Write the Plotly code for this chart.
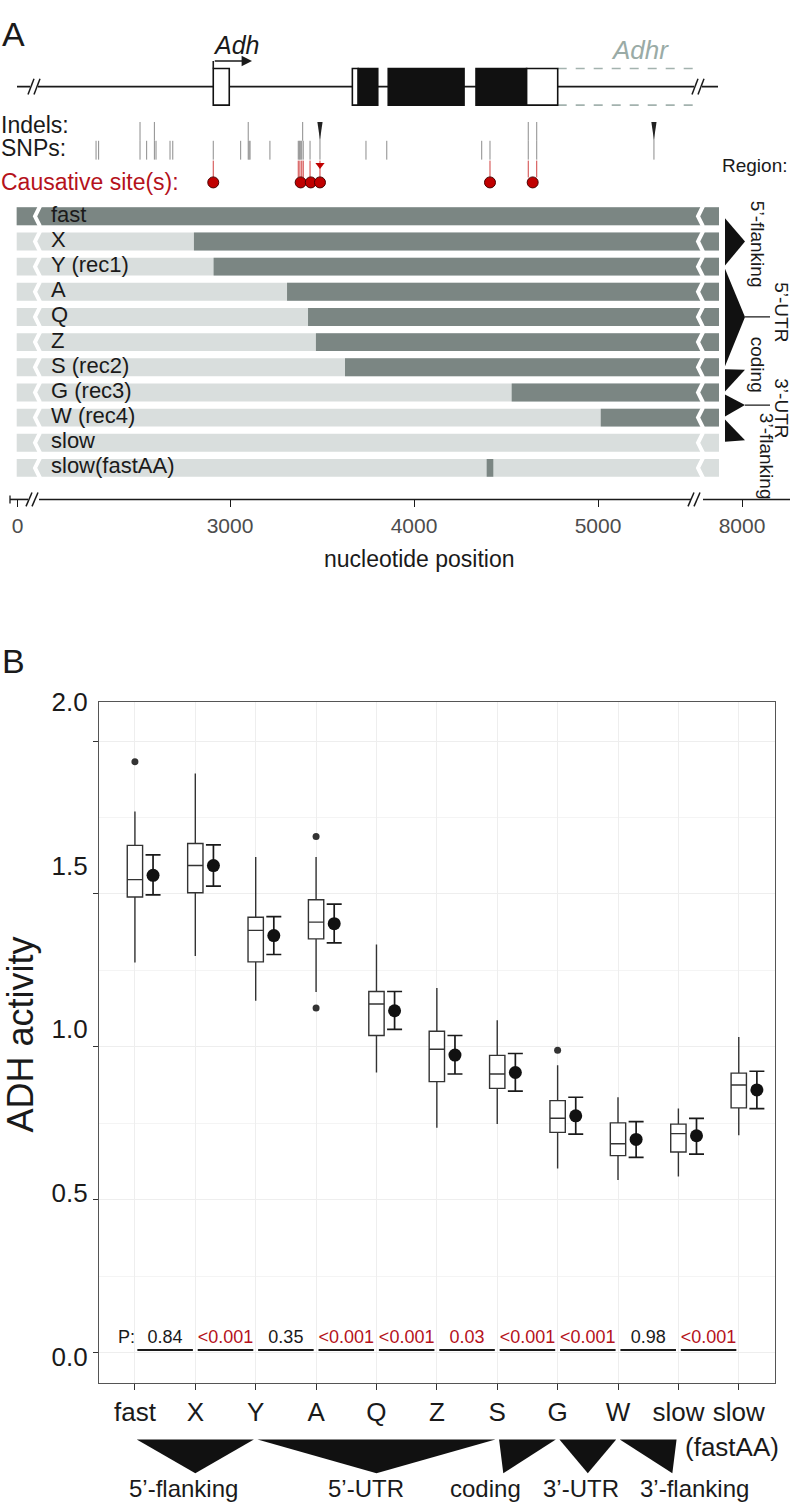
import plotly.graph_objects as go

W, H = 793, 1505

# ======================= DATA =======================
# ---- Panel A : recombinant lines (dark = "fast" derived sequence) ----
strain_labels = ["fast", "X", "Y (rec1)", "A", "Q", "Z", "S (rec2)", "G (rec3)",
                 "W (rec4)", "slow", "slow(fastAA)"]
fast_seg_start = [0, 2804, 2911, 3310, 3424, 3467, 3625, 4531, 5015, None, 4395]
fast_seg_end = [8000, 8000, 8000, 8000, 8000, 8000, 8000, 8000, 8000, None, 4431]

exon_start = [2909, 3665, 3697, 3860, 4337, 4612]
exon_end = [2996, 3697, 3803, 4272, 4612, 4781]
exon_coding = [False, False, True, True, True, False]

snp_pos = [2272, 2286, 2511, 2547, 2589, 2598, 2674, 2689, 2909, 3058, 3099, 3104,
           3109, 3217, 3371, 3376, 3380, 3385, 3390, 3398, 3435, 3739, 3852, 4368,
           4413, 4621, 4667]
indel_pos = [2511, 2589, 3099, 3395, 4621, 4667]
indel_big = [3489, 5304]
causal_stem_pos = [2909, 3371, 3380, 3390, 3398, 3435, 3489, 4413, 4621, 4667]
causal_dot_pos = [2909, 3384, 3439, 3489, 4413, 4645]

axis_tick_labels = ["0", "3000", "4000", "5000", "8000"]

# ---- Panel B : ADH activity ----
lines_b = ["fast", "X", "Y", "A", "Q", "Z", "S", "G", "W", "slow", "slow(fastAA)"]
tick_labels_b = ["fast", "X", "Y", "A", "Q", "Z", "S", "G", "W", "slow", "slow"]
q1 = [1.490, 1.504, 1.278, 1.353, 1.037, 0.886, 0.864, 0.720, 0.644, 0.656, 0.800]
median = [1.547, 1.593, 1.381, 1.408, 1.140, 0.992, 0.911, 0.766, 0.683, 0.716, 0.875]
q3 = [1.659, 1.665, 1.424, 1.481, 1.181, 1.051, 0.972, 0.824, 0.751, 0.747, 0.914]
lower_whisker = [1.276, 1.297, 1.151, 1.179, 0.916, 0.735, 0.747, 0.602, 0.564, 0.576, 0.711]
upper_whisker = [1.770, 1.894, 1.621, 1.621, 1.335, 1.192, 1.087, 0.940, 0.835, 0.798, 1.032]
outlier_line = ["fast", "A", "A", "G"]
outlier_val = [1.933, 1.688, 1.127, 0.989]
mean_val = [1.561, 1.593, 1.364, 1.403, 1.118, 0.973, 0.916, 0.774, 0.697, 0.709, 0.859]
ci_high = [1.628, 1.661, 1.426, 1.467, 1.181, 1.037, 0.978, 0.835, 0.755, 0.766, 0.920]
ci_low = [1.497, 1.526, 1.302, 1.340, 1.057, 0.911, 0.855, 0.714, 0.638, 0.649, 0.798]
p_values = ["0.84", "<0.001", "0.35", "<0.001", "<0.001", "0.03", "<0.001", "<0.001",
            "0.98", "<0.001"]

region_names = ["5\u2019-flanking", "5\u2019-UTR", "coding", "3\u2019-UTR", "3\u2019-flanking"]
region_first = [0, 2, 6, 7, 8]
region_last = [2, 6, 7, 8, 9]
region_apex = [1, 4, 6.1, 7.5, 8.9]

# ======================= STYLE / GEOMETRY =======================
FONT = "Liberation Sans, Arial, sans-serif"
BLACK = "#1a1a1a"
RED = "#b5121b"
LIGHT = "#d9dedd"
DARK = "#7b8683"
GRID = "#eeeeee"


def pxx(px):
    return px / W


def pxy(py):
    return 1 - py / H


# panel A display mapping (broken axis)
def nt_of_px(px):
    return 3000 + (px - 230) / 0.184


def row_of_px(py):
    return (py - 204.2) / 25.4


SEQ_LEFT, SEQ_RIGHT = nt_of_px(16.7), nt_of_px(719)


def disp(p):
    if p <= 0:
        return SEQ_LEFT
    if p >= 8000:
        return SEQ_RIGHT
    return p


TICK_DISP = [nt_of_px(17.7), 3000, 4000, 5000, nt_of_px(742)]

# panel B geometry
XB0, XB1, YB0, YB1 = 98.7, 775.0, 694.0, 1382.0
XR = [-0.6, 10.6]
YR = [(1351 - YB1) / 308.5, (1351 - YB0) / 308.5]          # data scale (ticks)
YR_LAB = [(1355 - YB1) / 330.15, (1355 - YB0) / 330.15]    # shifted tick labels


def cat_px(c):
    return XB0 + (c - XR[0]) / (XR[1] - XR[0]) * (XB1 - XB0)


fig = go.Figure()
shapes = []
ann = []


def add_ann(**kw):
    kw.setdefault("xanchor", "center")
    kw.setdefault("yanchor", "middle")
    kw.setdefault("showarrow", False)
    kw.setdefault("borderpad", 0)
    ann.append(kw)


# ======================= PANEL A =======================
n = len(strain_labels)
rows = list(range(n))
fig.add_trace(go.Bar(orientation="h", y=rows, base=[disp(0)] * n,
                     x=[disp(8000) - disp(0)] * n, width=0.71,
                     marker=dict(color=LIGHT, line=dict(width=0)),
                     xaxis="x3", yaxis="y3", hoverinfo="skip", showlegend=False))
dr, db, dl = [], [], []
for r, (s, e) in enumerate(zip(fast_seg_start, fast_seg_end)):
    if s is None:
        continue
    dr.append(r)
    db.append(disp(s))
    dl.append(disp(e) - disp(s))
fig.add_trace(go.Bar(orientation="h", y=dr, base=db, x=dl, width=0.71,
                     marker=dict(color=DARK, line=dict(width=0)),
                     xaxis="x3", yaxis="y3", hoverinfo="skip", showlegend=False))

# white zig-zag breaks on bars
zx, zy = [], []
lb, rb, amp = nt_of_px(35), nt_of_px(698), 5 / 0.184
for r in rows:
    zx += [lb + amp, lb, lb + amp, None, rb + amp, rb, rb + amp, None]
    zy += [r - 0.4, r, r + 0.4, None, r - 0.4, r, r + 0.4, None]
fig.add_trace(go.Scatter(x=zx, y=zy, mode="lines", line=dict(color="white", width=4),
                         xaxis="x3", yaxis="y3", hoverinfo="skip", showlegend=False))

# row labels
fig.add_trace(go.Scatter(x=[nt_of_px(51)] * n, y=rows, text=strain_labels, mode="text",
                         textposition="middle right",
                         textfont=dict(family=FONT, size=22, color=BLACK),
                         xaxis="x3", yaxis="y3", hoverinfo="skip", showlegend=False))

# SNP / indel ticks
ind_top, ind_bot = row_of_px(109), row_of_px(128)
snp_top, snp_bot = row_of_px(128), row_of_px(147)
sx, sy = [], []
for p in snp_pos:
    sx += [p, p, None]
    sy += [snp_top, snp_bot, None]
fig.add_trace(go.Scatter(x=sx, y=sy, mode="lines", line=dict(color="#8c8c8c", width=1),
                         xaxis="x3", yaxis="y3", hoverinfo="skip", showlegend=False))
ix, iy = [], []
for p in indel_pos + indel_big:
    ix += [p, p, None]
    iy += [ind_top, snp_bot if p in indel_big else ind_bot, None]
fig.add_trace(go.Scatter(x=ix, y=iy, mode="lines", line=dict(color="#8c8c8c", width=1),
                         xaxis="x3", yaxis="y3", hoverinfo="skip", showlegend=False))
for p in indel_big:
    w = 2.6 / 0.184
    shapes.append(dict(type="path", xref="x3", yref="y3",
                       path=f"M {p-w},{ind_top} L {p+w},{ind_top} L {p},{row_of_px(127)} Z",
                       fillcolor="#222222", line=dict(width=0)))

# causative sites
cx, cy = [], []
for p in causal_stem_pos:
    cx += [p, p, None]
    cy += [row_of_px(148), row_of_px(165), None]
fig.add_trace(go.Scatter(x=cx, y=cy, mode="lines", line=dict(color="#d04040", width=1),
                         xaxis="x3", yaxis="y3", hoverinfo="skip", showlegend=False))
fig.add_trace(go.Scatter(x=[indel_big[0]], y=[row_of_px(152.5)], mode="markers",
                         marker=dict(symbol="triangle-down", size=8, color="#c00000"),
                         xaxis="x3", yaxis="y3", hoverinfo="skip", showlegend=False))
fig.add_trace(go.Scatter(x=causal_dot_pos, y=[row_of_px(170)] * len(causal_dot_pos),
                         mode="markers",
                         marker=dict(size=11, color="#c00000", line=dict(color="#4a0000", width=1)),
                         xaxis="x3", yaxis="y3", hoverinfo="skip", showlegend=False))

# gene model
gy = row_of_px(73.3)
ex_top, ex_bot = row_of_px(55), row_of_px(92)
shapes.append(dict(type="line", xref="x3", yref="y3", x0=nt_of_px(17), x1=nt_of_px(718),
                   y0=gy, y1=gy, line=dict(color=BLACK, width=1.6)))
# Adhr dashed outline
for yy in (ex_top, ex_bot):
    shapes.append(dict(type="line", xref="x3", yref="y3", x0=exon_end[-1], x1=nt_of_px(695),
                       y0=yy, y1=yy, line=dict(color="#a3b2ae", width=1.6, dash="dash")))
for s, e, c in zip(exon_start, exon_end, exon_coding):
    shapes.append(dict(type="rect", xref="x3", yref="y3", x0=s, x1=e, y0=ex_top, y1=ex_bot,
                       fillcolor="#111111" if c else "white", line=dict(color="#111111", width=1.6)))
# breaks "//" on gene line and axis line
for (bx, by) in [(28, 73.3), (692, 73.3)]:
    shapes.append(dict(type="rect", xref="paper", yref="paper", x0=pxx(bx + 2), x1=pxx(bx + 10),
                       y0=pxy(by - 3), y1=pxy(by + 3), fillcolor="white", line=dict(width=0)))
    for dx in (0, 6):
        shapes.append(dict(type="line", xref="paper", yref="paper",
                           x0=pxx(bx + dx), x1=pxx(bx + dx + 6), y0=pxy(by + 8), y1=pxy(by - 8),
                           line=dict(color=BLACK, width=1.5)))
# panel A axis line with breaks
for x0, x1 in [(10, 28), (39, 691), (703, 790)]:
    shapes.append(dict(type="line", xref="paper", yref="paper", x0=pxx(x0), x1=pxx(x1),
                       y0=pxy(490), y1=pxy(490), line=dict(color=BLACK, width=1.6)))
for bx in (26, 32, 688, 694):
    shapes.append(dict(type="line", xref="paper", yref="paper", x0=pxx(bx), x1=pxx(bx + 6),
                       y0=pxy(497), y1=pxy(483), line=dict(color=BLACK, width=1.5)))
shapes.append(dict(type="line", xref="paper", yref="paper", x0=pxx(10), x1=pxx(10),
                   y0=pxy(486), y1=pxy(494), line=dict(color=BLACK, width=1.3)))

# transcription start arrow
shapes.append(dict(type="line", xref="x3", yref="y3", x0=exon_start[0], x1=exon_start[0],
                   y0=ex_top, y1=row_of_px(47.5), line=dict(color=BLACK, width=1.6)))
ann.append(dict(xref="x3", yref="y3", axref="x3", ayref="y3", x=nt_of_px(252),
                y=row_of_px(47.5), ax=exon_start[0], ay=row_of_px(47.5), text="",
                showarrow=True, arrowhead=2, arrowsize=1.3, arrowwidth=1.6, arrowcolor=BLACK))
add_ann(xref="x3", yref="y3", x=nt_of_px(236), y=row_of_px(31.7), text="<i>Adh</i>",
        font=dict(family=FONT, size=25, color=BLACK))
add_ann(xref="x3", yref="y3", x=nt_of_px(640), y=row_of_px(36.7), text="<i>Adhr</i>",
        font=dict(family=FONT, size=26, color="#9aaba6"))

# left labels
for txt, yy, col in [("Indels:", 111.7, BLACK), ("SNPs:", 135, BLACK),
                     ("Causative site(s):", 170, RED)]:
    add_ann(xref="paper", yref="paper", x=0, y=pxy(yy), xanchor="left", text=txt,
            font=dict(family=FONT, size=23, color=col))
add_ann(xref="paper", yref="paper", x=pxx(1), y=pxy(20), xanchor="left", text="A",
        font=dict(family=FONT, size=34, color=BLACK))
add_ann(xref="paper", yref="paper", x=pxx(755), y=pxy(153), text="Region:",
        font=dict(family=FONT, size=19, color=BLACK))

# region wedges on the right of panel A
wx0, wx1 = nt_of_px(725), nt_of_px(745)
for k in range(len(region_names)):
    a, b, c = region_first[k] + 0.08, region_last[k] - 0.04, region_apex[k]
    shapes.append(dict(type="path", xref="x3", yref="y3",
                       path=f"M {wx0},{a} L {wx1},{c} L {wx0},{b} Z",
                       fillcolor="#111111", line=dict(width=0)))
for k in (1, 3):
    shapes.append(dict(type="line", xref="x3", yref="y3", x0=wx1, x1=nt_of_px(770),
                       y0=region_apex[k], y1=region_apex[k], line=dict(color=BLACK, width=1.3)))
reg_lab_px = [(757, 232), (782, 301), (757, 354), (782, 398), (766, 446)]
for name, (lx, ly) in zip(region_names, reg_lab_px):
    add_ann(xref="paper", yref="paper", x=pxx(lx), y=pxy(ly), text=name, textangle=90,
            font=dict(family=FONT, size=19, color=BLACK))

add_ann(xref="paper", yref="paper", x=pxx(419), y=pxy(550), text="nucleotide position",
        font=dict(family=FONT, size=23, color=BLACK))

# ======================= PANEL B =======================
xs = list(range(len(lines_b)))
fig.add_trace(go.Box(x=xs, q1=q1, median=median, q3=q3, lowerfence=lower_whisker,
                     upperfence=upper_whisker, boxpoints=False, width=0.254,
                     fillcolor="white", line=dict(color="#333333", width=1.4),
                     whiskerwidth=0, hoverinfo="skip", showlegend=False,
                     xaxis="x", yaxis="y"))
fig.add_trace(go.Scatter(x=[lines_b.index(l) for l in outlier_line], y=outlier_val,
                         mode="markers", marker=dict(size=7, color="#333333"),
                         hoverinfo="skip", showlegend=False))
fig.add_trace(go.Scatter(x=[i + 0.3 for i in xs], y=mean_val, mode="markers",
                         marker=dict(size=13, color="#111111"),
                         error_y=dict(type="data", symmetric=False,
                                      array=[h - m for h, m in zip(ci_high, mean_val)],
                                      arrayminus=[m - l for m, l in zip(mean_val, ci_low)],
                                      width=7.5, thickness=1.7, color="#1a1a1a"),
                         hoverinfo="skip", showlegend=False))
# P-value comparison lines and labels
px_, py_ = [], []
for i in range(len(p_values)):
    px_ += [i + 0.04, i + 0.96, None]
    py_ += [0.008, 0.008, None]
fig.add_trace(go.Scatter(x=px_, y=py_, mode="lines", line=dict(color=BLACK, width=2),
                         hoverinfo="skip", showlegend=False))
p_colors = [RED if v.startswith("<") or float(v) < 0.05 else BLACK for v in p_values]
fig.add_trace(go.Scatter(x=[i + 0.5 for i in range(len(p_values))], y=[0.044] * len(p_values),
                         text=p_values, mode="text",
                         textfont=dict(family=FONT, size=18, color=p_colors),
                         hoverinfo="skip", showlegend=False))
fig.add_trace(go.Scatter(x=[0.0], y=[0.044], text=["P:"], mode="text",
                         textposition="middle left",
                         textfont=dict(family=FONT, size=18, color=BLACK),
                         hoverinfo="skip", showlegend=False))
# dummy trace for the label axis
fig.add_trace(go.Scatter(x=[0], y=[1], yaxis="y2", mode="markers",
                         marker=dict(opacity=0), hoverinfo="skip", showlegend=False))

# region wedges under panel B
for k in range(len(region_names)):
    a = cat_px(region_first[k] + 0.03)
    b = cat_px(region_last[k] - 0.03)
    c = cat_px(region_apex[k])
    shapes.append(dict(type="path", xref="paper", yref="paper",
                       path=f"M {pxx(a)},{pxy(1439)} L {pxx(b)},{pxy(1439)} L {pxx(c)},{pxy(1473)} Z",
                       fillcolor="#111111", line=dict(width=0)))
reg_lab_b = [183, 366, 486, 581, 694]
for name, lx in zip(region_names, reg_lab_b):
    add_ann(xref="paper", yref="paper", x=pxx(lx), y=pxy(1488), text=name,
            font=dict(family=FONT, size=24, color=BLACK))

add_ann(xref="paper", yref="paper", x=pxx(cat_px(9.88)), y=pxy(1446.7), text="(fastAA)",
        font=dict(family=FONT, size=26, color=BLACK))
add_ann(xref="paper", yref="paper", x=pxx(20), y=pxy(1030), text="ADH activity",
        textangle=-90, font=dict(family=FONT, size=36, color=BLACK))
add_ann(xref="paper", yref="paper", x=pxx(1), y=pxy(653), xanchor="left", text="B",
        font=dict(family=FONT, size=34, color=BLACK))

fig.update_layout(
    width=W, height=H, margin=dict(l=0, r=0, t=0, b=0),
    paper_bgcolor="white", plot_bgcolor="white", barmode="overlay",
    showlegend=False, shapes=shapes, annotations=ann,
    xaxis=dict(domain=[pxx(XB0), pxx(XB1)], range=XR, tickmode="array", tickvals=xs,
               ticktext=tick_labels_b, ticks="outside", ticklen=6, tickcolor="#333333",
               tickwidth=1.3, showgrid=True, gridcolor=GRID, gridwidth=1, zeroline=False,
               showline=True, mirror=True, linecolor="#555555", linewidth=1.3,
               tickfont=dict(family=FONT, size=26, color=BLACK), anchor="y"),
    yaxis=dict(domain=[pxy(YB1), pxy(YB0)], range=YR, tickmode="array",
               tickvals=[0, 0.5, 1, 1.5, 2], showticklabels=False, ticks="outside",
               ticklen=5, tickcolor="#333333", tickwidth=1.3, showgrid=True,
               gridcolor=GRID, gridwidth=1, zeroline=False, showline=True, mirror=True,
               linecolor="#555555", linewidth=1.3, anchor="x",
               minor=dict(tickmode="linear", tick0=0, dtick=0.25, showgrid=True,
                          gridcolor="#f4f4f4", gridwidth=1, ticks="")),
    yaxis2=dict(overlaying="y", anchor="x", side="left", range=YR_LAB, tickmode="array",
                tickvals=[0, 0.5, 1, 1.5, 2], ticktext=["0.0", "0.5", "1.0", "1.5", "2.0"],
                ticks="", showgrid=False, zeroline=False, showline=False,
                ticklabelstandoff=10, tickfont=dict(family=FONT, size=26, color=BLACK)),
    xaxis3=dict(domain=[0, 1], range=[nt_of_px(0), nt_of_px(W)], anchor="y3",
                tickmode="array", tickvals=TICK_DISP, ticktext=axis_tick_labels,
                ticks="outside", ticklen=7, tickwidth=1.3, tickcolor=BLACK,
                showline=False, showgrid=False, zeroline=False,
                tickfont=dict(family=FONT, size=21, color="#4d4d4d")),
    yaxis3=dict(domain=[pxy(490), 1], range=[row_of_px(490), row_of_px(0)], anchor="x3",
                visible=False, showgrid=False, zeroline=False),
)

# remove the browser's default 8px body margin so the figure sits at the page origin
fig.write_html("out.html", config={"displayModeBar": False},
               post_script="document.body.style.margin='0';document.body.style.padding='0';")
